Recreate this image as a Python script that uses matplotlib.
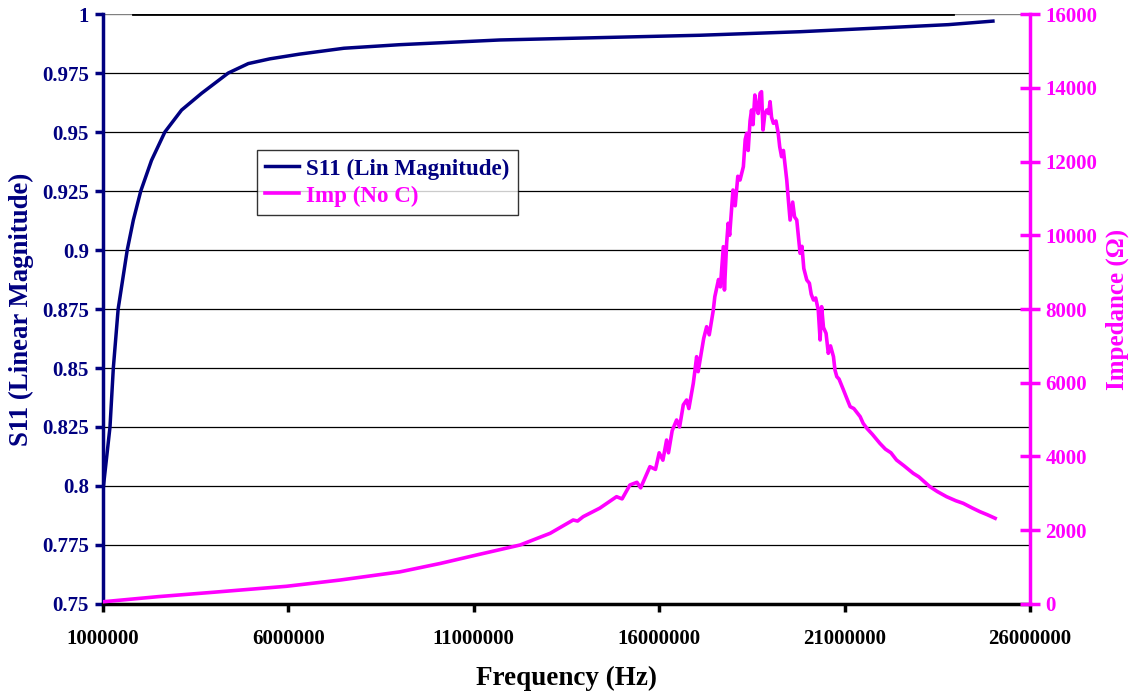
import matplotlib
matplotlib.use("Agg")
import matplotlib.pyplot as plt
from matplotlib.ticker import FixedLocator

# frequency in MHz
s11_freq_mhz = [1.0, 1.19, 1.28, 1.41, 1.655, 1.82, 2.02, 2.31, 2.67, 3.12, 3.66,
                4.38, 4.92, 5.5, 6.3, 7.5, 9.0, 11.7, 14.4, 17.1, 19.8, 22.5,
                23.8, 25.0]
s11_mag = [0.798, 0.825, 0.85, 0.875, 0.9, 0.9127, 0.925, 0.938, 0.95, 0.9593, 0.9664,
           0.975, 0.979, 0.981, 0.983, 0.9855, 0.987, 0.989, 0.990, 0.991, 0.9925, 0.9945,
           0.9955, 0.997]

imp_freq_mhz = [1.0, 2.5, 4.0, 5.95, 7.4, 9.0, 10.1, 11.08, 12.25, 13.06,
                13.68, 13.8, 13.95, 14.4, 14.85, 15.0, 15.21, 15.4, 15.5, 15.75,
                15.9, 16.0, 16.1, 16.2, 16.25, 16.35, 16.47, 16.55, 16.65, 16.74,
                16.8, 16.92, 16.96, 17.01, 17.05, 17.1, 17.2, 17.28, 17.35, 17.46,
                17.5, 17.6, 17.65, 17.73, 17.76, 17.82, 17.86, 17.9, 17.99, 18.05,
                18.12, 18.18, 18.27, 18.32, 18.36, 18.4, 18.45, 18.49, 18.53, 18.58,
                18.62, 18.67, 18.72, 18.76, 18.8, 18.85, 18.9, 18.95, 18.99, 19.03,
                19.08, 19.15, 19.21, 19.25, 19.3, 19.35, 19.44, 19.48, 19.53, 19.6,
                19.65, 19.71, 19.8, 19.85, 19.9, 19.98, 20.05, 20.1, 20.16, 20.22,
                20.29, 20.34, 20.38, 20.43, 20.5, 20.56, 20.62, 20.7, 20.74, 20.79,
                20.85, 20.97, 21.05, 21.15, 21.25, 21.42, 21.5, 21.6, 21.75, 21.95,
                22.1, 22.25, 22.4, 22.6, 22.85, 23.0, 23.3, 23.5, 23.75, 24.0,
                24.2, 24.45, 24.65, 24.85, 25.06]
imp_ohm = [60, 200, 320, 480, 650, 870, 1100, 1330, 1600, 1917,
           2278, 2250, 2368, 2600, 2910, 2850, 3227, 3300, 3150, 3724,
           3650, 4100, 3900, 4447, 4100, 4700, 4990, 4800, 5400, 5532,
           5300, 5985, 6300, 6707, 6300, 6600, 7200, 7520, 7300, 7973,
           8333, 8800, 8600, 9690, 8515, 9800, 10325, 10000, 11227, 10800,
           11600, 11498, 11860, 12600, 12764, 12300, 13100, 13396, 13000, 13803,
           13500, 13302, 13850, 13894, 12854, 13300, 13396, 13300, 13623, 13200,
           13036, 13100, 12764, 12400, 12131, 12300, 11498, 11000, 10413, 10900,
           10500, 10413, 9510, 9700, 9100, 8787, 8700, 8400, 8244, 8300,
           7973, 7160, 8063, 7500, 7341, 6798, 7000, 6707, 6346, 6165,
           6100, 5803, 5600, 5351, 5300, 5080, 4900, 4764, 4600, 4358,
           4200, 4100, 3905, 3750, 3544, 3450, 3181, 3050, 2910, 2800,
           2730, 2600, 2503, 2420, 2324]

x_ticks = [1000000, 6000000, 11000000, 16000000, 21000000, 26000000]
left_ticks = [0.75, 0.775, 0.8, 0.825, 0.85, 0.875, 0.9, 0.925, 0.95, 0.975, 1]
right_ticks = [0, 2000, 4000, 6000, 8000, 10000, 12000, 14000, 16000]

navy = "#000080"
magenta = "#FF00FF"
font = "Liberation Serif"

fig = plt.figure(figsize=(11.35, 6.94), dpi=100)
ax = fig.add_axes([0.0907, 0.1297, 0.8168, 0.8501])
ax2 = ax.twinx()

s11_freq = [f * 1e6 for f in s11_freq_mhz]
imp_freq = [f * 1e6 for f in imp_freq_mhz]

l1, = ax.plot(s11_freq, s11_mag, color=navy, lw=2.5, label="S11 (Lin Magnitude)")
l2, = ax2.plot(imp_freq, imp_ohm, color=magenta, lw=2.6, label="Imp (No C)")

ax.set_xlim(1e6, 26e6)
ax.set_ylim(0.75, 1)
ax2.set_ylim(0, 16000)

ax.xaxis.set_major_locator(FixedLocator(x_ticks))
ax.set_xticklabels([str(t) for t in x_ticks])
ax.yaxis.set_major_locator(FixedLocator(left_ticks))
ax.set_yticklabels(["1" if t == 1 else ("%g" % t) for t in left_ticks])
ax2.yaxis.set_major_locator(FixedLocator(right_ticks))
ax2.set_yticklabels([str(t) for t in right_ticks])

# gridlines
for t in left_ticks[1:-1]:
    ax.axhline(t, color="black", lw=0.9, zorder=0)
ax.axhline(1, color="#808080", lw=1.0, zorder=0)
ax.axhline(1, xmin=0.032, xmax=0.917, color="black", lw=2.0, zorder=1)

ax.spines["top"].set_visible(False)
ax2.spines["top"].set_visible(False)
ax.spines["right"].set_visible(False)
ax.spines["left"].set_color(navy)
ax.spines["left"].set_linewidth(2.5)
ax.spines["bottom"].set_color("black")
ax.spines["bottom"].set_linewidth(2.5)
ax2.spines["left"].set_visible(False)
ax2.spines["bottom"].set_visible(False)
ax2.spines["right"].set_color(magenta)
ax2.spines["right"].set_linewidth(2.5)

ax.tick_params(axis="y", colors=navy, direction="out", length=6, width=2.5, pad=4)
ax.tick_params(axis="x", colors="black", direction="out", length=6, width=2.5, pad=12)
ax2.tick_params(axis="y", colors=magenta, direction="inout", length=14, width=2.5, pad=4)

for lab in ax.get_yticklabels() + ax.get_xticklabels() + ax2.get_yticklabels():
    lab.set_fontfamily(font)
    lab.set_fontweight("bold")
    lab.set_fontsize(15)
for lab in ax2.get_yticklabels():
    lab.set_color(magenta)

ax.set_xlabel("Frequency (Hz)", fontfamily=font, fontweight="bold", fontsize=19.5, labelpad=12)
ax.set_ylabel("S11 (Linear Magnitude)", fontfamily=font, fontweight="bold", fontsize=19.3,
              color=navy, labelpad=6)
ax2.set_ylabel("Impedance (\u03a9)", fontfamily=font, fontweight="bold", fontsize=18,
               color=magenta, labelpad=6)

leg = ax2.legend(handles=[l1, l2], loc="upper left", bbox_to_anchor=(0.166, 0.769),
                 prop={"family": font, "weight": "bold", "size": 16.6},
                 fancybox=False, frameon=True, borderaxespad=0, handlelength=1.5,
                 handletextpad=0.3, borderpad=0.35, labelspacing=0.25)
leg.get_frame().set_edgecolor("black")
leg.get_frame().set_linewidth(1.0)
for txt, c in zip(leg.get_texts(), [navy, magenta]):
    txt.set_color(c)

fig.savefig("out.png", dpi=100)
